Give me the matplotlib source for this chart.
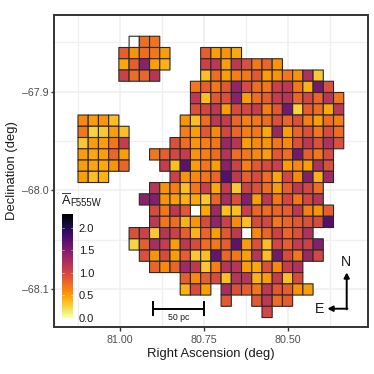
import numpy as np
import matplotlib
matplotlib.use("Agg")
import matplotlib.pyplot as plt
from matplotlib.lines import Line2D

plt.rcParams['font.family'] = ['Liberation Sans', 'DejaVu Sans']

# First RA column (index from the east edge) and reddening values of each declination row
row_starts = [6, 4, 4, 4, 11, 11, 11, 10, 10, 9, 7, 8, 9, 7, 6, 7, 7, 5, 5, 6, 7, 10, 10, 14, 18]
row_00 = [0.75, 0.72]
row_01 = [0.84, 0.55, 0.75, 0.70, 0.50, None, None, None, 0.84, 0.50, 0.55, 0.45]
row_02 = [0.45, 0.84, 1.44, 0.50, 0.40, None, None, None, 1.05, 1.14, 0.50, 1.14, 0.93, 0.70, 0.80, 0.55]
row_03 = [1.05, 0.75, 0.80, 1.18, None, None, None, None, 0.35, 0.75, 0.50, 0.65, 0.70, 0.88, 0.50, 0.55, 0.70, 0.55, 1.22, 0.30]
row_04 = [0.70, 0.84, 0.70, 0.88, 1.40, 0.97, 0.75, 0.70, 1.05, 1.14, 0.70, 0.40, 1.57, 0.93]
row_05 = [1.14, 0.35, 0.88, 0.93, 1.44, 0.50, 0.75, 0.84, 1.10, 1.18, 0.80, 1.01, 0.80, 1.18, 0.70]
row_06 = [0.93, 1.01, 1.14, 0.50, 0.97, 1.01, 1.10, 0.65, 0.88, 1.57, 0.25, 0.84, 0.75, 0.45, 1.14]
row_07 = [0.55, 0.35, 0.75, 1.14, 1.10, 0.80, 0.65, 0.70, 0.75, 0.93, 0.80, 0.93, 0.65, 0.50, 0.75, 0.65]
row_08 = [0.65, 0.50, 0.88, 0.60, 1.01, 0.80, 0.65, 0.70, 0.45, 1.35, 0.50, 0.80, 0.93, 0.70, 0.97, 0.75]
row_09 = [0.93, 0.75, 0.55, 0.65, 0.70, 1.35, 1.18, 0.50, 0.60, 0.55, 0.70, 0.60, 0.93, 1.14, 0.93, 1.22, 0.93]
row_10 = [0.70, 0.84, 1.01, 1.10, 0.55, 0.65, 0.75, 1.18, 0.75, 0.70, 0.60, 0.50, 0.88, 0.75, 1.57, 0.84, 0.70, 0.97]
row_11 = [1.10, 0.35, 1.69, 0.50, 0.70, 0.50, 1.44, 1.05, 0.65, 0.88, 0.97, 1.05, 0.50, 0.60, 0.50, 1.22, 0.93]
row_12 = [1.05, 0.55, 0.60, 0.70, 0.80, 1.74, 1.14, 0.84, 0.97, 0.75, 0.45, 1.01, 0.60, 1.48, 0.40, 1.31]
row_13 = [1.18, 0.55, 0.65, 0.35, 0.70, 1.05, 0.45, 1.10, 0.30, 1.05, 0.93, 0.75, 0.50, 0.84, 1.14, 1.01, 0.75]
row_14 = [1.44, 1.48, 0.55, 0.50, 0.40, 0.45, 0.30, 0.80, 1.27, 0.93, 1.48, 0.50, 1.14, 0.70, 1.01, 0.70, 1.01, 1.18]
row_15 = [0.97, 0.70, 1.14, 0.88, None, 0.45, 1.31, 0.35, 0.35, 1.05, 0.80, 0.75, 0.80, 0.84, 1.14, 0.65, 0.55, 0.84]
row_16 = [1.14, 0.70, 0.75, 0.40, 0.55, 0.97, 1.40, 1.05, 0.60, 0.35, 0.97, 1.01, 0.70, 0.80, 0.88, 0.93, 0.97, 1.74]
row_17 = [0.93, 1.05, 0.30, 1.18, 1.05, 0.84, 0.40, 0.80, 0.50, 0.88, 1.14, None, 0.60, 0.80, 1.05, 0.80, 0.93, 1.22]
row_18 = [0.25, 0.84, 1.27, 1.10, 0.50, 1.14, 0.97, 0.75, 0.70, 0.84, 1.69, 0.50, 0.93, 0.35, 1.01, 0.84, 1.10, 1.05, 1.48]
row_19 = [0.93, 0.55, 0.97, 0.50, 0.84, 0.30, 0.35, 1.65, 0.80, 0.70, 0.50, 1.18, 0.35, 1.57, 0.97, 0.70, 1.35, 1.01]
row_20 = [0.80, 0.60, 0.80, 1.31, 1.14, 0.30, 0.65, 1.18, 1.18, 0.50, 0.45, 0.93, 0.60, 1.10, 1.22]
row_21 = [0.84, 0.60, 0.84, 0.97, 0.35, 1.18, 1.18, 0.40, 0.50, 1.10, 0.35, 0.97]
row_22 = [0.40, 0.97, 0.50, None, 1.27, 0.93, 0.84, 0.70, 1.14, 0.88, 0.84, 0.55, 0.50]
row_23 = [0.88, None, None, 0.88, 1.14, 0.75, 0.84]
row_24 = [1.01]

# The detached eastern clump sits at columns 0-4
clump_starts = [0, 0, 0, 0, 0, 0]
clump_rows = [7, 8, 9, 10, 11, 12]
clump_values = [
    [0.60, 0.50, 0.55, 0.35],
    [0.70, 0.25, 0.30, 0.50, 0.35],
    [0.30, 0.50, 0.50, 0.70, 1.10],
    [0.50, 0.45, 0.50, 0.80, 0.50],
    [0.50, 0.45, 0.45, 0.55, 0.80],
    [0.50, 0.35, 0.40],
]
# Cells with an outline but no fill: (row, column)
empty_cells = [(0, 5), (15, 11), (17, 16)]

ra_first_edge, ra_step = 81.1241, 0.03042
dec_first_edge, dec_step = -67.8439, 0.01139
n_rows, n_cols = 25, 26

x_ticks = [81.00, 80.75, 80.50]
x_tick_labels = ["81.00", "80.75", "80.50"]
y_ticks = [-67.9, -68.0, -68.1]
y_tick_labels = ["\u201367.9", "\u201368.0", "\u201368.1"]
cbar_ticks = [0.0, 0.5, 1.0, 1.5, 2.0]
vmax = 2.31

all_rows = [row_00, row_01, row_02, row_03, row_04, row_05, row_06, row_07, row_08,
            row_09, row_10, row_11, row_12, row_13, row_14, row_15, row_16, row_17,
            row_18, row_19, row_20, row_21, row_22, row_23, row_24]

grid = np.full((n_rows, n_cols), np.nan)
for r, (start, vals) in enumerate(zip(row_starts, all_rows)):
    for k, v in enumerate(vals):
        if v is not None:
            grid[r, start + k] = v
for r, start, vals in zip(clump_rows, clump_starts, clump_values):
    for k, v in enumerate(vals):
        grid[r, start + k] = v

ra_edges = ra_first_edge - ra_step * np.arange(n_cols + 1)
dec_edges = dec_first_edge - dec_step * np.arange(n_rows + 1)

W, H = 374, 374
L, R, T, B = 54.0, 367.5, 15.0, 327.3
fig = plt.figure(figsize=(W / 100, H / 100), dpi=100)
ax = fig.add_axes([L / W, 1 - B / H, (R - L) / W, (B - T) / H])
ax.set_xlim(81.1955, 80.2625)
ax.set_ylim(-68.1385, -67.8224)

grid_col = '#EFEFEF'
ax.set_xticks(x_ticks, x_tick_labels)
ax.set_yticks(y_ticks, y_tick_labels)
ax.set_xticks([80.875, 80.625, 81.125, 80.375], minor=True)
ax.set_yticks([-67.85, -67.95, -68.05], minor=True)
ax.grid(which='major', color=grid_col, lw=1.1)
ax.grid(which='minor', color=grid_col, lw=0.9)
ax.set_axisbelow(True)
ax.tick_params(which='major', length=3, width=1.0, color='#333333', labelcolor='#4D4D4D',
               labelsize=7.7, pad=2.5)
ax.tick_params(axis='y', which='major', length=2.5, pad=1.3)
ax.tick_params(which='minor', length=0)
for s in ax.spines.values():
    s.set_linewidth(1.4)
    s.set_color('#333333')
ax.set_xlabel("Right Ascension (deg)", fontsize=9.4, color='#1a1a1a', labelpad=2.5)
ax.yaxis.set_label_coords(12.5 / W, 0.5 + (171.15 - 171) / (B - T), transform=fig.transFigure)
ax.yaxis.label.set_y(0.5)
ax.set_ylabel("Declination (deg)", fontsize=9.4, color='#1a1a1a', va='center')
ax.yaxis.set_label_coords(12.5 / W, 1 - 171 / H, transform=fig.transFigure)

cmap = plt.get_cmap('inferno_r')
ec = '#2a2a2a'
mask = np.zeros_like(grid)
for r, c in empty_cells:
    mask[r, c] = 1
ax.pcolor(ra_edges, dec_edges, np.ma.masked_where(mask == 0, mask), cmap='gray',
          vmin=0, vmax=1, edgecolors=ec, linewidth=0.8, zorder=2)
mesh = ax.pcolor(ra_edges, dec_edges, np.ma.masked_invalid(grid), cmap=cmap, vmin=0, vmax=vmax,
                 edgecolors=ec, linewidth=0.8, zorder=3)

# Colour bar
cax = fig.add_axes([62 / W, 1 - 317.5 / H, 11.3 / W, 103.2 / H])
cb = fig.colorbar(mesh, cax=cax, ticks=cbar_ticks)
cb.outline.set_visible(False)
cb.ax.tick_params(length=0, labelsize=8, labelcolor='#1a1a1a', pad=4)
cb.ax.set_yticklabels([f"{v:.1f}" for v in cbar_ticks])
for v in cbar_ticks:
    cb.ax.plot([0, 0.2], [v, v], color='white', lw=0.4, alpha=.8, transform=cb.ax.get_yaxis_transform())
    cb.ax.plot([0.8, 1], [v, v], color='white', lw=0.4, alpha=.8, transform=cb.ax.get_yaxis_transform())
fig.text(62.3 / W, 1 - 200.5 / H, "A", fontsize=9.2, va='center', ha='left', color='#1a1a1a')
fig.add_artist(Line2D([62.3 / W, 70.2 / W], [1 - 193.3 / H] * 2, color='#333333', lw=0.7,
                      transform=fig.transFigure))
fig.text(70.5 / W, 1 - 203.5 / H, "F555W", fontsize=6.9, va='center', ha='left', color='#1a1a1a')

# Scale bar
sb_ra = [80.9, 80.75]
sb_dec = -68.1195
ax.plot(sb_ra, [sb_dec, sb_dec], color='black', lw=1.4, zorder=4, solid_capstyle='butt')
for ra in sb_ra:
    ax.plot([ra, ra], [sb_dec - 0.0068, sb_dec + 0.0068], color='black', lw=1.4, zorder=4)
ax.text(np.mean(sb_ra), -68.1283, "50 pc", fontsize=6.3, ha='center', va='center', color='#1a1a1a')

# Compass
ak = dict(arrowstyle='-|>,head_width=0.16,head_length=0.3', color='black', lw=1.4,
          shrinkA=0, shrinkB=0)
ax.annotate('', xy=(346.7 / W, 1 - 272.5 / H), xytext=(346.7 / W, 1 - 309.3 / H),
            xycoords='figure fraction', textcoords='figure fraction', arrowprops=ak, zorder=5)
ax.annotate('', xy=(327.5 / W, 1 - 308.7 / H), xytext=(347.4 / W, 1 - 308.7 / H),
            xycoords='figure fraction', textcoords='figure fraction', arrowprops=ak, zorder=5)
fig.text(346 / W, 1 - 262 / H, "N", fontsize=10.2, ha='center', va='center', color='#1a1a1a')
fig.text(320 / W, 1 - 309 / H, "E", fontsize=10.2, ha='center', va='center', color='#1a1a1a')

fig.savefig("out.png", dpi=100)
